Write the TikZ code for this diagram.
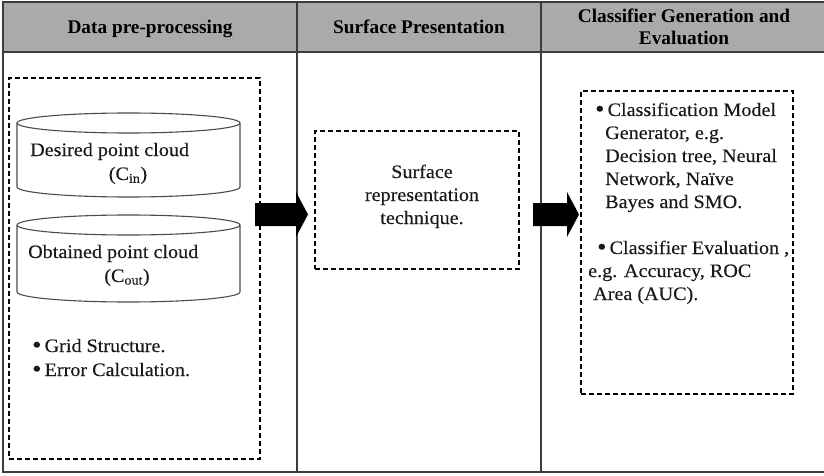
\documentclass[tikz,border=0pt]{standalone}
\usepackage{fontspec}
\setmainfont{Liberation Serif}
\newfontfamily\bodyfont[FakeStretch=1.06,FakeBold=0.25]{Liberation Serif}
\definecolor{hdr}{RGB}{170,170,170}
\definecolor{framec}{RGB}{60,60,60}
\newcommand{\bul}{{\fontsize{25}{23}\selectfont\raisebox{-1pt}{\textbullet}}}
\begin{document}
\begin{tikzpicture}[x=1pt,y=-1pt,
  frame/.style={draw=framec, line width=1.3pt},
  dbox/.style={draw=black, line width=1.7pt, dash pattern=on 5pt off 3pt, inner sep=0pt},
  head/.style={font=\fontsize{19.3}{23}\selectfont\bfseries, anchor=base, inner sep=0pt},
  txt/.style={font=\bodyfont\fontsize{19}{23}\selectfont, anchor=base west, inner sep=0pt, text=black!90},
  ctxt/.style={txt, anchor=base},
  cyl/.style={draw=black!70, line width=1.1pt, fill=white},
  bigarrow/.style={fill=black}]
\useasboundingbox (0,0) rectangle (824,476);
% header band and frame
\fill[hdr] (3,2) rectangle (826,52);
\draw[frame] (826,2) -- (3,2) -- (3,472) -- (826,472);
\draw[frame] (3,52) -- (826,52);
\draw[frame] (297,2) -- (297,472);
\draw[frame] (541,2) -- (541,472);
% headers
\node[head] (h1) at (150,34) {Data pre-processing};
\node[head] (h2) at (419,34) {Surface Presentation};
\node[head] (h3a) at (684,23) {Classifier Generation and};
\node[head] (h3b) at (684,45) {Evaluation};
% dashed boxes
\node[dbox, minimum width=251pt, minimum height=381pt, anchor=north west] (pre) at (8,77) {};
\node[dbox, minimum width=204pt, minimum height=138pt, anchor=north west] (surf) at (314,130) {};
\node[dbox, minimum width=212pt, minimum height=303pt, anchor=north west] (cls) at (580,90) {};
% cylinders
\draw[cyl] (17,123) -- (17,187) arc[start angle=180, end angle=0, x radius=111.5, y radius=10] -- (240,123);
\draw[cyl] (128.5,123) ellipse[x radius=111.5, y radius=10];
\draw[cyl] (17,225) -- (17,292) arc[start angle=180, end angle=0, x radius=111.5, y radius=10] -- (240,225);
\draw[cyl] (128.5,225) ellipse[x radius=111.5, y radius=10];
% left texts
\node[txt] (t1) at (30,156) {Desired point cloud};
\node[ctxt] (t2) at (128,180) {(C\textsubscript{in})};
\node[txt] (t3) at (28,258) {Obtained point cloud};
\node[ctxt] (t4) at (127,282) {(C\textsubscript{out})};
\node[txt] (t5) at (32,352) {\bul\,Grid Structure.};
\node[txt] (t6) at (32,376) {\bul\,Error Calculation.};
% middle texts
\node[ctxt] (s1) at (422,178) {Surface};
\node[ctxt] (s2) at (422,201) {representation};
\node[ctxt] (s3) at (422,224) {technique.};
% right texts
\node[txt] (r1) at (595,116) {\bul\,Classification Model};
\node[txt] (r2) at (605,139) {Generator, e.g.};
\node[txt] (r3) at (605,162) {Decision tree, Neural};
\node[txt] (r4) at (605,185) {Network, Naïve};
\node[txt] (r5) at (605,208) {Bayes and SMO.};
\node[txt] (r6) at (597,254) {\bul\,Classifier Evaluation ,};
\node[txt] (r7) at (588,277) {e.g. Accuracy, ROC};
\node[txt] (r8) at (593,300) {Area (AUC).};
% big arrows
\fill[bigarrow] (255,203) -- (296,203) -- (296,192) -- (308,214.5) -- (296,237) -- (296,226) -- (255,226) -- cycle;
\fill[bigarrow] (533,203) -- (567,203) -- (567,192) -- (579,214.5) -- (567,237) -- (567,226) -- (533,226) -- cycle;
\end{tikzpicture}
\end{document}
